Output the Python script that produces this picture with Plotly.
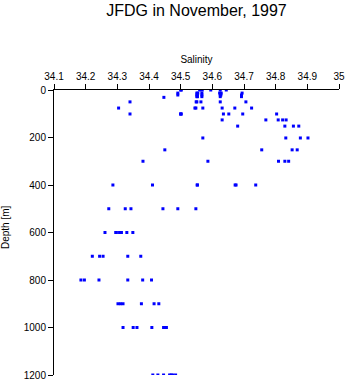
import plotly.graph_objects as go

depth_levels = [0, 0, 0, 0, 0, 0, 0,
                13, 13, 13, 13, 13, 13, 13,
                21, 21, 21, 21, 21, 21, 21,
                28, 28, 28, 28, 28,
                31,
                50, 50, 50, 50, 50, 50,
                76, 76, 76, 76, 76, 76, 76,
                101, 101, 101, 101, 101, 101, 101, 101,
                126, 126, 126, 126, 126,
                152, 152, 152, 152,
                202, 202, 202, 202,
                252, 252, 252, 252,
                300, 300, 300, 300, 300,
                400, 400, 400, 400, 400, 400, 400,
                500, 500, 500, 500, 500, 500,
                600, 600, 600, 600, 600, 600, 600,
                700, 700, 700, 700, 700,
                800, 800, 800, 800, 800, 800,
                900, 900, 900, 900, 900, 900,
                1000, 1000, 1000, 1000, 1000, 1000, 1000,
                1200, 1200, 1200, 1200, 1200, 1200, 1200]

salinity = [34.500, 34.560, 34.568, 34.595, 34.625, 34.644, 34.502,
            34.491, 34.551, 34.567, 34.623, 34.694, 34.554, 34.628,
            34.491, 34.551, 34.567, 34.625, 34.692, 34.553, 34.627,
            34.551, 34.567, 34.625, 34.692, 34.553,
            34.447,
            34.340, 34.549, 34.564, 34.625, 34.706, 34.551,
            34.304, 34.545, 34.570, 34.631, 34.671, 34.724, 34.548,
            34.340, 34.500, 34.635, 34.652, 34.696, 34.803, 34.502, 34.500,
            34.631, 34.769, 34.808, 34.822, 34.833,
            34.680, 34.829, 34.856, 34.873,
            34.570, 34.832, 34.878, 34.902,
            34.450, 34.756, 34.852, 34.868,
            34.381, 34.586, 34.809, 34.829, 34.841,
            34.286, 34.411, 34.552, 34.553, 34.672, 34.737, 34.675,
            34.273, 34.325, 34.343, 34.444, 34.491, 34.548,
            34.261, 34.295, 34.307, 34.313, 34.330, 34.349, 34.297,
            34.221, 34.244, 34.255, 34.333, 34.374,
            34.185, 34.196, 34.242, 34.333, 34.380, 34.408,
            34.302, 34.310, 34.318, 34.376, 34.416, 34.431,
            34.318, 34.350, 34.362, 34.409, 34.446, 34.455, 34.452,
            34.412, 34.428, 34.446, 34.465, 34.470, 34.475, 34.484]

x_ticks = [34.1, 34.2, 34.3, 34.4, 34.5, 34.6, 34.7, 34.8, 34.9, 35.0]
x_tick_labels = ["34.1", "34.2", "34.3", "34.4", "34.5", "34.6", "34.7", "34.8", "34.9", "35"]
y_ticks = [0, 200, 400, 600, 800, 1000, 1200]

font_family = "Liberation Sans, Arial, sans-serif"

fig = go.Figure()
fig.add_trace(go.Scatter(
    x=salinity, y=depth_levels, mode="markers",
    marker=dict(symbol="square", size=3, color="#0000ff", line=dict(width=0)),
    showlegend=False, hoverinfo="x+y",
))

fig.update_layout(
    width=348, height=384,
    margin=dict(l=54, r=9, t=90, b=9),
    paper_bgcolor="white", plot_bgcolor="white",
    font=dict(family=font_family, color="black", size=10),
    title=dict(text="JFDG in November, 1997", x=0.5647, xanchor="center",
               y=1 - 10 / 384, yanchor="middle", yref="container",
               font=dict(size=16, family=font_family, color="black")),
    xaxis=dict(
        side="top", range=[34.1, 35.0], tickvals=x_ticks, ticktext=x_tick_labels,
        ticks="outside", ticklen=5, tickcolor="black", tickwidth=1,
        showline=True, linecolor="black", linewidth=1, showgrid=False, zeroline=False,
        title=dict(text="Salinity", standoff=5, font=dict(size=10)),
        tickfont=dict(size=10), automargin=False,
    ),
    yaxis=dict(
        range=[1200, 0], tickvals=y_ticks,
        ticks="outside", ticklen=5, tickcolor="black", tickwidth=1,
        showline=True, linecolor="black", linewidth=1, showgrid=False, zeroline=False,
        tickfont=dict(size=10), automargin=False,
    ),
    annotations=[dict(
        text="Depth [m]", textangle=-90, showarrow=False,
        xref="paper", yref="paper", x=0, y=(375 - 227) / 285,
        xanchor="center", yanchor="middle", xshift=-49,
        font=dict(size=10, family=font_family, color="black"),
    )],
)

fig.write_html("out.html")
